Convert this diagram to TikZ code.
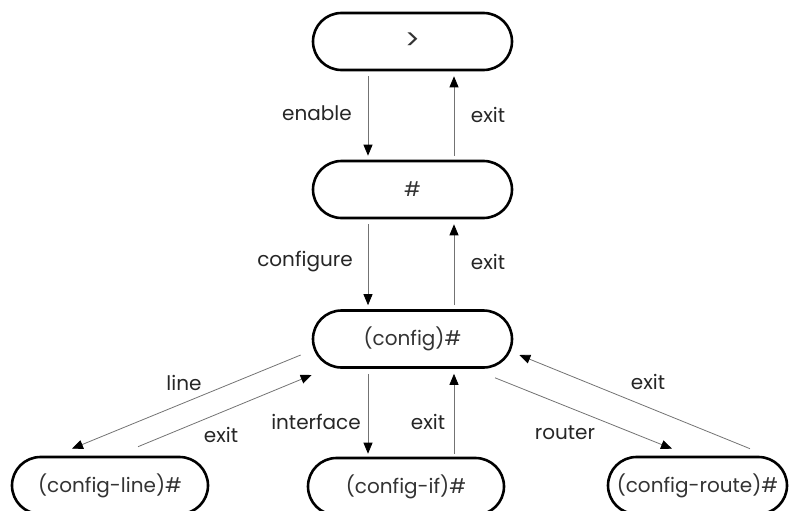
\documentclass[tikz,border=0pt]{standalone}
\usepackage{fontspec}
\setmainfont{Poppins}
\usetikzlibrary{shapes.misc,arrows.meta}
\tikzset{
  mode/.style={rounded rectangle,draw=black,line width=2.6pt,minimum height=57pt,
    inner sep=0pt,font=\fontsize{20}{22}\selectfont,text=black!80},
  cmd/.style={font=\fontsize{20}{22}\selectfont,text=black!85},
  go/.style={draw=black!55,line width=0.8pt,-{Triangle[length=11pt,width=9pt,color=black]}}
}
\begin{document}
\begin{tikzpicture}[x=1pt,y=-1pt]
  \useasboundingbox (0,0) rectangle (792,511);
  % modes
  \node[mode,minimum width=199pt] (user) at (412.5,41.5) {\fontsize{28}{30}\selectfont >};
  \node[mode,minimum width=199pt] (priv) at (412.5,189.5) {\#};
  \node[mode,minimum width=199pt] (conf) at (412.5,339) {(config)\#};
  \node[mode,minimum width=196pt] (cline) at (110,485.5) {(config-line)\#};
  \node[mode,minimum width=196pt] (cif) at (406,486.5) {(config-if)\#};
  \node[mode,minimum width=179pt] (croute) at (697.5,485.5) {(config-route)\#};
  % enable / exit
  \draw[go,shorten <=5pt,shorten >=4pt] ([xshift=-44.5pt]user.south) -- ([xshift=-44.5pt]priv.north);
  \draw[go,shorten <=4pt,shorten >=5pt] ([xshift=41.5pt]priv.north) -- ([xshift=41.5pt]user.south);
  \node[cmd] (lenable) at (317,113) {enable};
  \node[cmd] (lexita) at (488,115) {exit};
  % configure / exit
  \draw[go,shorten <=5pt,shorten >=4pt] ([xshift=-44.5pt]priv.south) -- ([xshift=-44.5pt]conf.north);
  \draw[go,shorten <=4pt,shorten >=5pt] ([xshift=41.5pt]conf.north) -- ([xshift=41.5pt]priv.south);
  \node[cmd] (lconf) at (305,262) {configure};
  \node[cmd] (lexitb) at (488,262) {exit};
  % line
  \draw[go] ([xshift=-11pt,yshift=-16pt]conf.west) -- ([xshift=-38pt,yshift=7pt]cline.north);
  \draw[go] ([xshift=28pt,yshift=9pt]cline.north) -- ([yshift=-36pt]conf.west);
  \node[cmd] (lline) at (184,383) {line};
  \node[cmd] (lexitc) at (221,435) {exit};
  % interface
  \draw[go,shorten <=5pt,shorten >=3pt] ([xshift=-44.5pt]conf.south) -- ([xshift=-44.5pt]conf.south |- cif.north);
  \draw[go,shorten <=3pt,shorten >=5pt] ([xshift=41.5pt]conf.south |- cif.north) -- ([xshift=41.5pt]conf.south);
  \node[cmd] (lif) at (316,422) {interface};
  \node[cmd] (lexitd) at (428,422) {exit};
  % router
  \draw[go] ([xshift=82.5pt,yshift=-9pt]conf.south) -- ([xshift=-25.5pt,yshift=7pt]croute.north);
  \draw[go] ([xshift=52.5pt,yshift=7pt]croute.north) -- ([xshift=6pt,yshift=-16pt]conf.east);
  \node[cmd] (lrouter) at (565,433) {router};
  \node[cmd] (lexite) at (648,382) {exit};
\end{tikzpicture}
\end{document}
